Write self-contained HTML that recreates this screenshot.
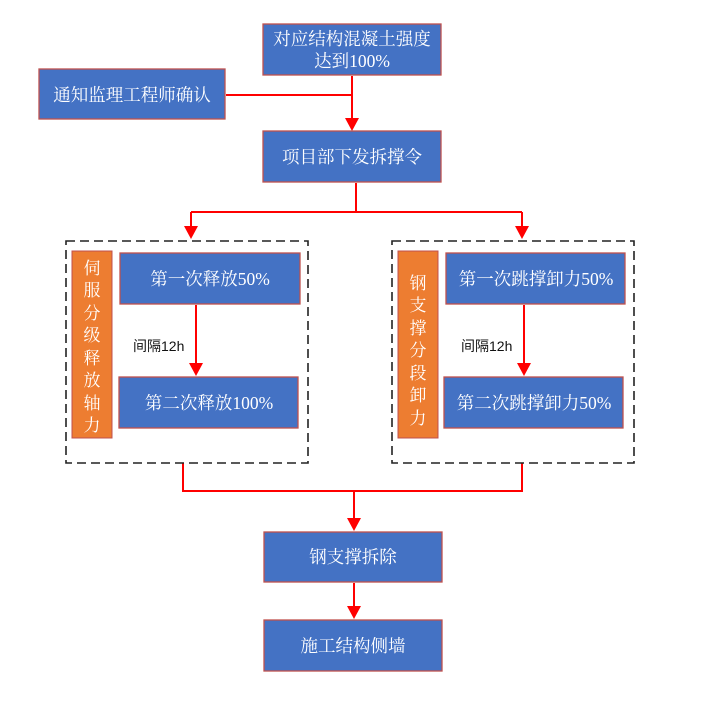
<!DOCTYPE html>
<html><head><meta charset="utf-8"><style>
html,body{margin:0;padding:0;background:#fff;width:720px;height:704px;overflow:hidden}
svg text{font-family:"Liberation Serif","Noto Serif CJK SC",serif}
svg text.s{font-family:"Liberation Sans","Noto Sans CJK SC",sans-serif}
</style></head><body>
<svg width="720" height="704" viewBox="0 0 720 704" xmlns="http://www.w3.org/2000/svg">
<g stroke="#ff0000" stroke-width="2" fill="none">
<line x1="352" y1="76" x2="352" y2="121" />
<line x1="226" y1="95" x2="352" y2="95"/>
<line x1="356" y1="183" x2="356" y2="212"/>
<line x1="191" y1="212" x2="522" y2="212"/>
<line x1="191" y1="212" x2="191" y2="228"/>
<line x1="522" y1="212" x2="522" y2="228"/>
<line x1="196" y1="305" x2="196" y2="366"/>
<line x1="524" y1="305" x2="524" y2="366"/>
<polyline points="183,463 183,491 522,491 522,463"/>
<line x1="354" y1="491" x2="354" y2="521"/>
<line x1="354" y1="583" x2="354" y2="609"/>
</g>
<g fill="#ff0000">
<path d="M345,118 L359,118 L352,131 z"/>
<path d="M184,226 L198,226 L191,239 z"/>
<path d="M515,226 L529,226 L522,239 z"/>
<path d="M189,363 L203,363 L196,376 z"/>
<path d="M517,363 L531,363 L524,376 z"/>
<path d="M347,518 L361,518 L354,531 z"/>
<path d="M347,606 L361,606 L354,619 z"/>
</g>
<g stroke="#222" stroke-width="1.6" fill="none" stroke-dasharray="9,5">
<rect x="66" y="241" width="242" height="222"/>
<rect x="392" y="241" width="242" height="222"/>
</g>
<g fill="#4472c4" stroke="#c0504d" stroke-width="1.3">
<rect x="263" y="24" width="178" height="51"/>
<rect x="39" y="69" width="186" height="50"/>
<rect x="263" y="131" width="178" height="51"/>
<rect x="120" y="253" width="180" height="51"/>
<rect x="119" y="377" width="179" height="51"/>
<rect x="446" y="253" width="179" height="51"/>
<rect x="444" y="377" width="179" height="51"/>
<rect x="264" y="532" width="178" height="50"/>
<rect x="264" y="620" width="178" height="51"/>
</g>
<g fill="#ed7d31" stroke="#c0504d" stroke-width="1">
<rect x="72" y="251" width="40" height="187"/>
<rect x="398" y="251" width="40" height="187"/>
</g>
<g fill="#fff" font-size="17.5" text-anchor="middle">
<text x="352" y="45">对应结构混凝土强度</text>
<text x="352" y="67">达到100%</text>
<text x="132" y="101">通知监理工程师确认</text>
<text x="352" y="163">项目部下发拆撑令</text>
<text x="210" y="285">第一次释放50%</text>
<text x="209" y="409">第二次释放100%</text>
<text x="536" y="285">第一次跳撑卸力50%</text>
<text x="534" y="409">第二次跳撑卸力50%</text>
<text x="353" y="563">钢支撑拆除</text>
<text x="353" y="652">施工结构侧墙</text>
</g>
<g fill="#fff" font-size="17" text-anchor="middle">
<text x="92" y="274">伺</text><text x="92" y="296">服</text><text x="92" y="319">分</text><text x="92" y="341">级</text>
<text x="92" y="364">释</text><text x="92" y="386">放</text><text x="92" y="409">轴</text><text x="92" y="431">力</text>
<text x="418" y="289">钢</text><text x="418" y="311">支</text><text x="418" y="334">撑</text><text x="418" y="356">分</text>
<text x="418" y="379">段</text><text x="418" y="401">卸</text><text x="418" y="424">力</text>
</g>
<g fill="#111" font-size="14">
<text class="s" x="133" y="351">间隔12h</text>
<text class="s" x="461" y="351">间隔12h</text>
</g>
</svg>
</body></html>
